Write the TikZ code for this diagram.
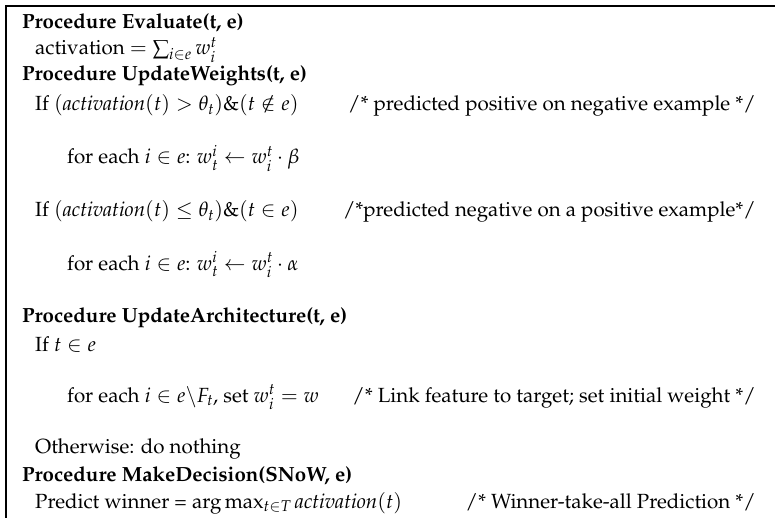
\documentclass[tikz,border=0pt]{standalone}
\usepackage[T1]{fontenc}
\usepackage{mathpazo}
\usepackage{amsmath}
\newcommand\act{\mathit{activation}}
\newcommand\cmt[3]{\node[note] (#1) at (756,#2) {#3};}

\begin{document}
\begin{tikzpicture}[x=1pt,y=-1pt,
  every node/.style={inner sep=0,font=\fontsize{20.5}{24}\selectfont},
  proc/.style={anchor=base west,font=\fontsize{20.5}{24}\selectfont\bfseries},
  lvlone/.style={anchor=base west},
  lvltwo/.style={anchor=base west},
  note/.style={anchor=base east}]
\useasboundingbox (0,0) rectangle (775,518);
% frame (open at right and bottom)
\draw[line width=2pt] (5.5,518) -- (5.5,6.5) -- (775,6.5);

% Evaluate
\node[proc] (pEval) at (22,29) {Procedure Evaluate(t, e)};
\node[lvlone] (sAct) at (35,55) {activation $= \sum_{i\in e} w_i^t$};

% UpdateWeights
\node[proc] (pUpd) at (22,81) {Procedure UpdateWeights(t, e)};
\node[lvlone] (sIfPos) at (35,111) {If $(\act(t) > \theta_t)$\&$(t \notin e)$};
\cmt{cPos}{111}{/* predicted positive on negative example */}
\node[lvltwo] (sBeta) at (67,164) {for each $i \in e$: $w_t^i \leftarrow w_i^t \cdot \beta$};
\node[lvlone] (sIfNeg) at (35,217) {If $(\act(t) \le \theta_t)$\&$(t \in e)$};
\cmt{cNeg}{217}{/*predicted negative on a positive example*/}
\node[lvltwo] (sAlpha) at (67,270) {for each $i \in e$: $w_t^i \leftarrow w_i^t \cdot \alpha$};

% UpdateArchitecture
\node[proc] (pArch) at (22,322) {Procedure UpdateArchitecture(t, e)};
\node[lvlone] (sIfT) at (35,351) {If $t \in e$};
\node[lvltwo] (sLink) at (67,402) {for each $i \in e\backslash F_t$, set $w_i^t = w$};
\cmt{cLink}{402}{/* Link feature to target; set initial weight */}
\node[lvlone] (sElse) at (35,453) {Otherwise: do nothing};

% MakeDecision
\node[proc] (pDec) at (22,481) {Procedure MakeDecision(SNoW, e)};
\node[lvlone] (sPred) at (35,508) {Predict winner = $\arg\max_{t\in T} \act(t)$};
\cmt{cWin}{508}{/* Winner-take-all Prediction */}
\end{tikzpicture}
\end{document}
